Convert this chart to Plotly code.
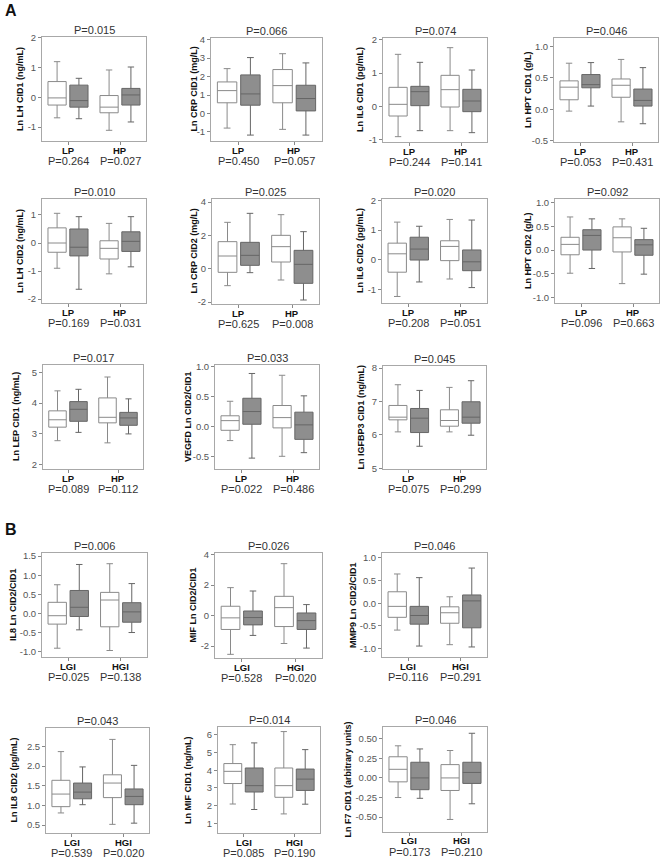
import plotly.graph_objects as go

W, H = 661, 862

# ---- data: each box = [lower whisker, Q1, median, Q3, upper whisker]
# order: cat1 white, cat1 gray, cat2 white, cat2 gray
LH_CID1 = [[-0.69, -0.26, -0.02, 0.53, 1.20], [-0.72, -0.33, -0.11, 0.41, 0.64],
           [-1.11, -0.52, -0.33, 0.06, 0.92], [-0.83, -0.26, 0.08, 0.30, 1.02]]
CRP_CID1 = [[-0.79, 0.58, 1.24, 1.71, 2.43], [-1.17, 0.45, 1.06, 2.09, 3.03],
            [-0.86, 0.58, 1.51, 2.38, 3.24], [-1.17, 0.14, 0.81, 1.53, 2.74]]
IL6_CID1 = [[-0.91, -0.29, 0.06, 0.57, 1.56], [-0.73, 0.02, 0.44, 0.60, 1.32],
            [-0.73, -0.02, 0.50, 0.93, 1.76], [-0.79, -0.16, 0.16, 0.51, 1.09]]
HPT_CID1 = [[-0.03, 0.15, 0.35, 0.45, 0.73], [0.05, 0.34, 0.39, 0.55, 0.74],
            [-0.20, 0.19, 0.38, 0.48, 0.79], [-0.23, 0.05, 0.14, 0.32, 0.66]]
LH_CID2 = [[-0.90, -0.33, 0.00, 0.54, 1.06], [-1.65, -0.46, -0.15, 0.50, 0.94],
           [-1.10, -0.57, -0.19, 0.08, 0.70], [-0.85, -0.30, 0.06, 0.40, 0.94]]
CRP_CID2 = [[-1.02, -0.22, 0.76, 1.62, 2.78], [-0.24, 0.20, 0.80, 1.58, 3.32],
            [-0.68, 0.40, 1.32, 2.00, 3.24], [-1.88, -0.88, 0.26, 1.10, 2.22]]
IL6_CID2 = [[-1.24, -0.42, 0.20, 0.56, 1.27], [-0.75, -0.01, 0.36, 0.76, 1.13],
            [-0.65, -0.03, 0.45, 0.64, 1.36], [-0.94, -0.37, -0.07, 0.33, 1.34]]
HPT_CID2 = [[-0.49, -0.10, 0.12, 0.27, 0.70], [-0.39, 0.00, 0.31, 0.43, 0.66],
            [-0.71, -0.04, 0.26, 0.49, 0.66], [-0.51, -0.11, 0.11, 0.22, 0.46]]
LEP_CID1 = [[2.78, 3.22, 3.46, 3.75, 4.40], [3.05, 3.41, 3.80, 4.05, 4.45],
            [2.71, 3.36, 3.54, 4.17, 4.85], [3.00, 3.28, 3.52, 3.70, 4.14]]
VEGFD_RATIO = [[-0.23, -0.06, 0.10, 0.18, 0.42], [-0.52, 0.04, 0.25, 0.47, 0.88],
               [-0.49, -0.02, 0.15, 0.35, 0.85], [-0.43, -0.21, 0.03, 0.24, 0.51]]
IGFBP3_CID1 = [[6.09, 6.45, 6.53, 6.88, 7.50], [5.66, 6.07, 6.50, 6.79, 7.33],
               [6.09, 6.26, 6.43, 6.75, 7.42], [5.99, 6.35, 6.53, 6.99, 7.62]]
IL8_RATIO = [[-0.91, -0.28, -0.06, 0.29, 0.75], [-0.43, -0.08, 0.16, 0.60, 1.28],
             [-0.97, -0.35, 0.35, 0.55, 1.30], [-0.50, -0.23, 0.04, 0.28, 0.78]]
MIF_RATIO = [[-2.54, -0.91, -0.15, 0.61, 1.83], [-1.30, -0.61, -0.13, 0.30, 1.61],
             [-1.83, -0.72, 0.52, 1.26, 3.40], [-2.13, -0.91, -0.33, 0.17, 0.72]]
MMP9_RATIO = [[-0.59, -0.31, -0.07, 0.25, 0.64], [-0.94, -0.46, -0.27, -0.07, 0.56],
              [-0.91, -0.44, -0.21, -0.08, 0.14], [-0.96, -0.54, 0.05, 0.18, 0.77]]
IL8_CID2 = [[0.81, 0.97, 1.29, 1.64, 2.37], [1.02, 1.17, 1.34, 1.57, 1.98],
            [0.52, 1.20, 1.57, 1.78, 2.68], [0.55, 1.02, 1.23, 1.42, 2.02]]
MIF_CID1 = [[2.09, 3.25, 3.94, 4.38, 5.45], [1.78, 2.77, 3.13, 4.13, 5.55],
            [1.53, 2.47, 3.13, 4.13, 6.19], [2.08, 2.86, 3.50, 4.07, 5.17]]
F7_CID1 = [[-0.25, -0.05, 0.11, 0.27, 0.41], [-0.26, -0.15, 0.00, 0.20, 0.37],
           [-0.53, -0.16, 0.00, 0.17, 0.35], [-0.33, -0.07, 0.07, 0.20, 0.57]]

CATS_A = ["LP", "HP"]
CATS_B = ["LGI", "HGI"]

# (data, y title, top P, bottom P values, categories)
PANELS = [
    (LH_CID1, "Ln LH CID1 (ng/mL)", "P=0.015", ["P=0.264", "P=0.027"], CATS_A),
    (CRP_CID1, "Ln CRP CID1 (mg/L)", "P=0.066", ["P=0.450", "P=0.057"], CATS_A),
    (IL6_CID1, "Ln IL6 CID1 (pg/mL)", "P=0.074", ["P=0.244", "P=0.141"], CATS_A),
    (HPT_CID1, "Ln HPT CID1 (g/L)", "P=0.046", ["P=0.053", "P=0.431"], CATS_A),
    (LH_CID2, "Ln LH CID2 (ng/mL)", "P=0.010", ["P=0.169", "P=0.031"], CATS_A),
    (CRP_CID2, "Ln CRP CID2 (mg/L)", "P=0.025", ["P=0.625", "P=0.008"], CATS_A),
    (IL6_CID2, "Ln IL6 CID2 (pg/mL)", "P=0.020", ["P=0.208", "P=0.051"], CATS_A),
    (HPT_CID2, "Ln HPT CID2 (g/L)", "P=0.092", ["P=0.096", "P=0.663"], CATS_A),
    (LEP_CID1, "Ln LEP CID1 (ng/mL)", "P=0.017", ["P=0.089", "P=0.112"], CATS_A),
    (VEGFD_RATIO, "VEGFD Ln CID2/CID1", "P=0.033", ["P=0.022", "P=0.486"], CATS_A),
    (IGFBP3_CID1, "Ln IGFBP3 CID1 (ng/mL)", "P=0.045", ["P=0.075", "P=0.299"], CATS_A),
    (IL8_RATIO, "IL8 Ln CID2/CID1", "P=0.006", ["P=0.025", "P=0.138"], CATS_B),
    (MIF_RATIO, "MIF Ln CID2/CID1", "P=0.026", ["P=0.528", "P=0.020"], CATS_B),
    (MMP9_RATIO, "MMP9 Ln CID2/CID1", "P=0.046", ["P=0.116", "P=0.291"], CATS_B),
    (IL8_CID2, "Ln IL8 CID2 (pg/mL)", "P=0.043", ["P=0.539", "P=0.020"], CATS_B),
    (MIF_CID1, "Ln MIF CID1 (ng/mL)", "P=0.014", ["P=0.085", "P=0.190"], CATS_B),
    (F7_CID1, "Ln F7 CID1 (arbitrary units)", "P=0.046", ["P=0.173", "P=0.210"], CATS_B),
]

# ---- layout / style per panel: pixel box (left, top, right, bottom), y range, ticks, fmt, y-title x
GEOM = [
    ((42, 37, 146, 141), (-1.47, 2.03), [-1, 0, 1, 2], "{:.0f}", 20),
    ((211, 38, 322, 141), (-1.49, 4.09), [-1, 0, 1, 2, 3, 4], "{:.0f}", 193),
    ((383, 38, 487, 142), (-1.07, 2.05), [-1, 0, 1, 2], "{:.0f}", 360),
    ((554, 38, 658, 142), (-0.52, 1.13), [-0.5, 0, 0.5, 1.0], "{:.1f}", 528),
    ((42, 199, 146, 303), (-2.14, 1.57), [-2, -1, 0, 1], "{:.0f}", 20),
    ((212, 199, 319, 304), (-2.12, 4.18), [-2, 0, 2, 4], "{:.0f}", 193),
    ((382, 199, 487, 303), (-1.46, 2.05), [-1, 0, 1, 2], "{:.0f}", 360),
    ((555, 199, 659, 303), (-1.12, 1.08), [-1.0, -0.5, 0, 0.5, 1.0], "{:.1f}", 528),
    ((43, 365, 143, 469), (1.86, 5.24), [2, 3, 4, 5], "{:.0f}", 16),
    ((215, 365, 319, 469), (-0.70, 1.02), [-0.5, 0, 0.5, 1.0], "{:.1f}", 188),
    ((383, 366, 486, 469), (4.98, 8.06), [5, 6, 7, 8], "{:.0f}", 360),
    ((42, 553, 147, 657), (-1.14, 1.58), [-1.0, -0.5, 0, 0.5, 1.0, 1.5], "{:.1f}", 13),
    ((215, 553, 322, 658), (-2.78, 4.10), [-2, 0, 2, 4], "{:.0f}", 192),
    ((382, 553, 487, 657), (-1.18, 1.10), [-1.0, -0.5, 0, 0.5, 1.0], "{:.1f}", 353),
    ((46, 728, 149, 833), (0.30, 2.97), [0.5, 1.0, 1.5, 2.0, 2.5], "{:.1f}", 13),
    ((218, 727, 320, 833), (0.45, 6.45), [1, 2, 3, 4, 5, 6], "{:.0f}", 188),
    ((383, 727, 487, 832), (-0.69, 0.65), [-0.5, -0.25, 0, 0.25, 0.5], "{:.2f}", 347),
]

FONT = "Arial, Liberation Sans, sans-serif"
BOX_W = 0.35
OFF = 0.21
STYLES = [("white", "#8a8a8a"), ("#8e8e8e", "#666666")]

fig = go.Figure()
layout = dict(width=W, height=H, margin=dict(l=0, r=0, t=0, b=0, autoexpand=False),
              paper_bgcolor="white", plot_bgcolor="white", showlegend=False,
              font=dict(family=FONT, color="#333"))
annotations = []

for i, (data, ytitle, ptop, pbot, cats) in enumerate(PANELS):
    n = i + 1
    xa = "x" if n == 1 else f"x{n}"
    ya = "y" if n == 1 else f"y{n}"
    (l, t, r, b), yr, tv, fmt, ytx = GEOM[i]
    for k, stats in enumerate(data):
        ci, g = divmod(k, 2)
        fill, lc = STYLES[g]
        fig.add_trace(go.Box(
            x=[ci + (OFF if g else -OFF)],
            lowerfence=[stats[0]], q1=[stats[1]], median=[stats[2]],
            q3=[stats[3]], upperfence=[stats[4]],
            width=BOX_W, whiskerwidth=0.35, fillcolor=fill,
            line=dict(color=lc, width=1), boxpoints=False,
            xaxis=xa, yaxis=ya, hoverinfo="skip"))
    axis_common = dict(showline=True, mirror=True, linecolor="#a8a8a8", linewidth=1,
                       showgrid=False, zeroline=False, ticks="outside", ticklen=3,
                       tickcolor="#888", tickwidth=1, automargin=False, fixedrange=True)
    layout["xaxis" if n == 1 else f"xaxis{n}"] = dict(
        domain=[l / W, r / W], anchor=ya, range=[-0.5, 1.5],
        tickvals=[0, 1], showticklabels=False, **axis_common)
    layout["yaxis" if n == 1 else f"yaxis{n}"] = dict(
        domain=[1 - b / H, 1 - t / H], anchor=xa, range=list(yr),
        tickvals=tv, ticktext=[fmt.format(v).replace("−", "-") for v in tv],
        tickfont=dict(size=9.5, color="#555", family=FONT), **axis_common)
    dref = f"{ya} domain"
    annotations.append(dict(text=ptop, xref=f"{xa} domain", yref=dref, x=0.5, y=1,
                            yshift=7, yanchor="middle", showarrow=False,
                            font=dict(size=11, color="#333")))
    for ci, (cat, pv) in enumerate(zip(cats, pbot)):
        annotations.append(dict(text=f"<b>{cat}</b>", xref=xa, yref=dref, x=ci, y=0,
                                yshift=-9, yanchor="middle", showarrow=False,
                                font=dict(size=9.5, color="#111")))
        annotations.append(dict(text=pv, xref=xa, yref=dref, x=ci, y=0, yshift=-20,
                                yanchor="middle", showarrow=False,
                                font=dict(size=11, color="#333")))
    annotations.append(dict(text=f"<b>{ytitle}</b>", xref="paper", yref=dref,
                            x=ytx / W, y=0.5, textangle=-90, showarrow=False,
                            xanchor="center", yanchor="middle",
                            font=dict(size=9, color="#111")))

annotations.append(dict(text="<b>A</b>", xref="paper", yref="paper", x=3 / W, y=1 - 11 / H,
                        xanchor="left", yanchor="middle", showarrow=False,
                        font=dict(size=16, color="#111")))
annotations.append(dict(text="<b>B</b>", xref="paper", yref="paper", x=3 / W, y=1 - 529 / H,
                        xanchor="left", yanchor="middle", showarrow=False,
                        font=dict(size=16, color="#111")))
layout["annotations"] = annotations
fig.update_layout(**layout)
fig.write_html("out.html", config={"displayModeBar": False, "staticPlot": True},
               post_script="document.body.style.margin='0';document.body.style.overflow='hidden';")
